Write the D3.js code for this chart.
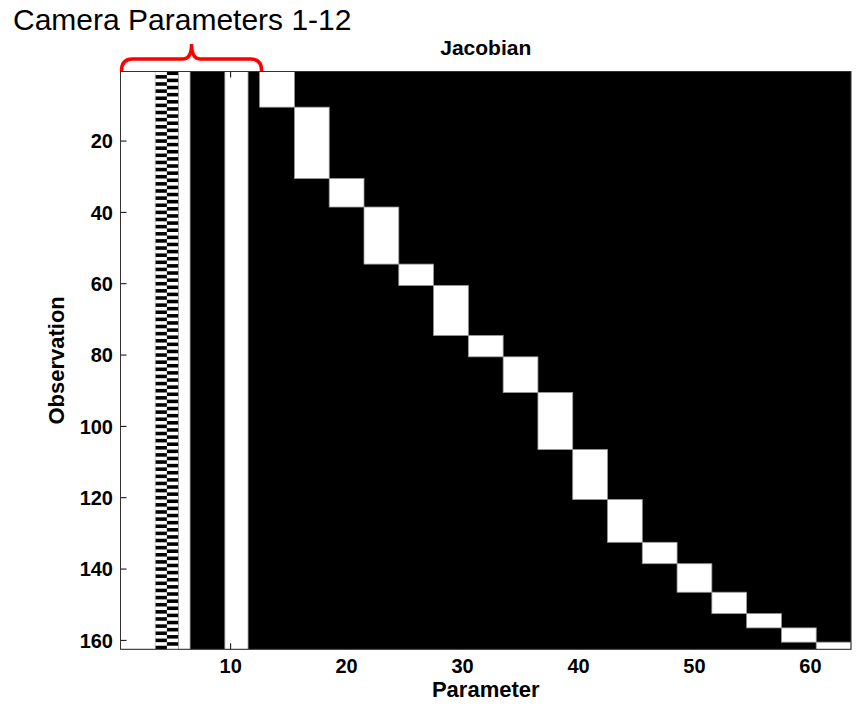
<!DOCTYPE html>
<html>
<head>
<meta charset="utf-8">
<script src="https://cdn.jsdelivr.net/npm/d3@7"></script>
<style>
  body { margin: 0; background: #fff; }
  svg text { font-family: "Liberation Sans", Arial, sans-serif; }
</style>
</head>
<body>
<div id="chart"></div>
<script>
var obsPerPoint = [5, 10, 4, 8, 3, 7, 3, 5, 8, 7, 6, 3, 4, 3, 2, 2, 1];
// which jacobian rows are nonzero for camera params 1..12
var cameraPattern = ["all", "all", "all", "odd", "even", "all",
                     "none", "none", "none", "all", "all", "none"];
var paramsPerPoint = 3;
var xTicks = [10, 20, 30, 40, 50, 60];
var yTicks = [20, 40, 60, 80, 100, 120, 140, 160];

var W = 859, H = 709;
var nCam = cameraPattern.length;
var nParams = nCam + obsPerPoint.length * paramsPerPoint;
var nRows = d3.sum(obsPerPoint) * 2;

var x = d3.scaleLinear().domain([0.5, nParams + 0.5]).range([120.5, 851]);
var y = d3.scaleLinear().domain([0.5, nRows + 0.5]).range([71.5, 649.3]);

// build list of white (nonzero) blocks: {c0, c1, r0, r1} inclusive
function buildBlocks() {
    var blocks = [];
    var c = 0;
    while (c < nCam) {
        var pat = cameraPattern[c];
        var c1 = c;
        while (c1 + 1 < nCam && cameraPattern[c1 + 1] == pat) c1++;
        if (pat == "all") {
            blocks.push({c0: c + 1, c1: c1 + 1, r0: 1, r1: nRows});
        } else if (pat == "odd" || pat == "even") {
            for (var r = 1; r <= nRows; r++) {
                if ((r % 2 == 1) == (pat == "odd"))
                    blocks.push({c0: c + 1, c1: c1 + 1, r0: r, r1: r, thin: true});
            }
        }
        c = c1 + 1;
    }
    var row = 1;
    obsPerPoint.forEach(function(n, i) {
        var col = nCam + i * paramsPerPoint + 1;
        blocks.push({c0: col, c1: col + paramsPerPoint - 1, r0: row, r1: row + 2 * n - 1});
        row += 2 * n;
    });
    return blocks;
}

function draw() {
    var svg = d3.select("#chart").append("svg")
        .attr("width", W).attr("height", H);

    // zero entries -> black background
    svg.append("rect")
        .attr("x", x(0.5)).attr("y", y(0.5))
        .attr("width", x(nParams + 0.5) - x(0.5))
        .attr("height", y(nRows + 0.5) - y(0.5))
        .attr("fill", "#000");

    svg.selectAll("rect.nz").data(buildBlocks())
        .enter().append("rect")
        .attr("class", "nz")
        .attr("x", function(d) { return x(d.c0 - 0.5); })
        .attr("y", function(d) { return y(d.r0 - 0.5); })
        .attr("width", function(d) { return x(d.c1 + 0.5) - x(d.c0 - 0.5); })
        .attr("height", function(d) { return y(d.r1 + 0.5) - y(d.r0 - 0.5); })
        .attr("fill", "#fff")
        .attr("stroke", function(d) { return d.thin ? "none" : "#999"; })
        .attr("stroke-width", 0.8);

    // axes box + inward ticks
    var x0 = x(0.5), x1 = x(nParams + 0.5), y0 = y(0.5), y1 = y(nRows + 0.5);
    var tl = 6;
    var ticks = svg.append("g").attr("stroke", "#000").attr("stroke-width", 1);
    xTicks.forEach(function(t) {
        ticks.append("line").attr("x1", x(t)).attr("x2", x(t)).attr("y1", y1).attr("y2", y1 - tl);
        ticks.append("line").attr("x1", x(t)).attr("x2", x(t)).attr("y1", y0).attr("y2", y0 + tl);
    });
    yTicks.forEach(function(t) {
        ticks.append("line").attr("x1", x0).attr("x2", x0 + tl).attr("y1", y(t)).attr("y2", y(t));
        ticks.append("line").attr("x1", x1).attr("x2", x1 - tl).attr("y1", y(t)).attr("y2", y(t));
    });
    svg.append("rect")
        .attr("x", x0).attr("y", y0)
        .attr("width", x1 - x0).attr("height", y1 - y0)
        .attr("fill", "none").attr("stroke", "#333").attr("stroke-width", 1);

    svg.selectAll("text.xt").data(xTicks)
        .enter().append("text")
        .attr("class", "xt")
        .attr("x", function(d) { return x(d); })
        .attr("y", 673)
        .attr("text-anchor", "middle")
        .attr("font-size", 20).attr("font-weight", "bold")
        .text(function(d) { return d; });

    svg.selectAll("text.yt").data(yTicks)
        .enter().append("text")
        .attr("class", "yt")
        .attr("x", 113)
        .attr("y", function(d) { return y(d); })
        .attr("dy", "0.36em")
        .attr("text-anchor", "end")
        .attr("font-size", 20).attr("font-weight", "bold")
        .text(function(d) { return d; });

    svg.append("text")
        .attr("x", (x0 + x1) / 2).attr("y", 55)
        .attr("text-anchor", "middle")
        .attr("font-size", 21).attr("font-weight", "bold")
        .text("Jacobian");

    svg.append("text")
        .attr("x", (x0 + x1) / 2).attr("y", 697)
        .attr("text-anchor", "middle")
        .attr("font-size", 22).attr("font-weight", "bold")
        .text("Parameter");

    svg.append("text")
        .attr("transform", "translate(64," + ((y0 + y1) / 2) + ") rotate(-90)")
        .attr("text-anchor", "middle")
        .attr("font-size", 22).attr("font-weight", "bold")
        .text("Observation");

    // red brace over the camera columns
    var bl = x(0.5) + 1, br = x(nCam + 0.5) + 2, bm = (bl + br) / 2;
    var by = 59, bt = 44, bb = 71, r = 11;
    var p = d3.path();
    p.moveTo(bl, bb);
    p.quadraticCurveTo(bl, by, bl + r, by);
    p.lineTo(bm - 9, by);
    p.quadraticCurveTo(bm, by, bm, bt);
    p.quadraticCurveTo(bm, by, bm + 9, by);
    p.lineTo(br - r, by);
    p.quadraticCurveTo(br, by, br, bb);
    svg.append("path")
        .attr("d", p.toString())
        .attr("fill", "none")
        .attr("stroke", "#f00")
        .attr("stroke-width", 3.5);

    svg.append("text")
        .attr("x", 13).attr("y", 30)
        .attr("font-size", 30)
        .text("Camera Parameters 1-12");
}

draw();
</script>
</body>
</html>
